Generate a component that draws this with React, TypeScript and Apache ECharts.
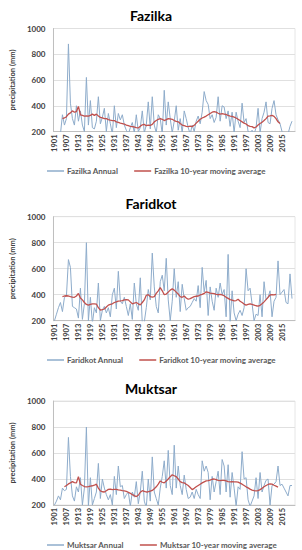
import React, { useEffect, useRef } from "react";
import * as echarts from "echarts";

const years: string[] = Array.from({ length: 121 }, (_, i) => String(1901 + i));
const yTicks = [200, 400, 600, 800, 1000];

const fazilkaAnnual = [
  150, 160, 170, 180, 330, 250, 300, 880, 420, 300,
  250, 400, 280, 360, 250, 200, 620, 250, 440, 230,
  220, 280, 470, 260, 310, 380, 200, 340, 260, 180,
  400, 230, 340, 290, 330, 250, 210, 180, 230, 270,
  190, 330, 200, 230, 360, 190, 250, 430, 220, 470,
  250, 190, 330, 300, 180, 520, 250, 430, 300, 190,
  280, 400, 210, 300, 190, 360, 300, 230, 180, 250,
  200, 280, 320, 260, 350, 510, 440, 410, 300, 330,
  270, 310, 470, 280, 400, 390, 300, 360, 240, 350,
  190, 350, 280, 230, 420, 270, 300, 200, 190, 210,
  180, 230, 380, 190, 300, 350, 430, 270, 260, 380,
  440, 330, 290, 260, 200, 170, 150, 180, 240, 280,
];
const fazilkaMAStart = 1905;
const fazilkaMA = [
  300, 305, 315, 335, 345, 360, 350, 355, 395, 330,
  325, 320, 322, 320, 325, 335, 325, 335, 320, 310,
  305, 300, 300, 292, 288, 285, 285, 275, 270, 265,
  262, 258, 250, 245, 240, 238, 235, 230, 228, 240,
  252, 255, 245, 250, 248, 255, 275, 285, 295, 300,
  295, 285, 292, 300, 298, 295, 285, 278, 275, 262,
  250, 245, 240, 238, 242, 238, 248, 265, 280, 295,
  305, 312, 320, 330, 340, 350, 355, 350, 342, 335,
  338, 335, 332, 325, 320, 318, 312, 305, 295, 285,
  275, 265, 258, 245, 240, 238, 228, 235, 250, 262,
  272, 285, 300, 320, 322, 325, 318, 300, 275, 262,
];

const faridkotAnnual = [
  200, 250, 300, 340, 270, 380, 390, 670, 610, 310,
  300, 290, 220, 450, 210, 330, 800, 200, 380, 180,
  300, 260, 490, 200, 280, 310, 260, 300, 230, 400,
  450, 290, 580, 350, 330, 380, 310, 240, 330, 210,
  490, 330, 280, 530, 180, 190, 300, 440, 360, 720,
  460, 310, 260, 500, 550, 430, 680, 360, 200, 350,
  600, 380, 500, 270, 480, 370, 280, 300, 310, 340,
  370, 350, 470, 300, 610, 420, 510, 240, 460, 350,
  280, 450, 380, 490, 400, 440, 230, 710, 190, 430,
  260, 200, 250, 280, 240, 300, 600, 430, 450, 330,
  200, 250, 240, 400, 230, 500, 360, 380, 430, 230,
  350, 380, 660, 400, 420, 440, 340, 330, 560, 370,
];
const faridkotMAStart = 1905;
const faridkotMA = [
  385, 390, 392, 390, 385, 382, 380, 390, 410, 375,
  360, 340, 325, 320, 325, 330, 330, 328, 300, 282,
  285, 290, 305, 320, 325, 330, 340, 345, 350, 352,
  355, 360, 362, 360, 345, 330, 335, 340, 330, 322,
  340, 360, 395, 400, 385, 382, 385, 410, 430, 455,
  430, 400, 405, 420, 435, 445, 435, 420, 405, 385,
  380, 390, 375, 365, 370, 378, 385, 388, 390, 398,
  402, 410, 422, 418, 412, 410, 408, 402, 400, 402,
  398, 392, 380, 372, 362, 358, 352, 355, 365, 350,
  340, 328, 320, 325, 330, 325, 320, 315, 312, 318,
  330, 345, 362, 380, 398, 400, 398, 402,
];

const muktsarAnnual = [
  200, 230, 270, 240, 330, 310, 320, 720, 420, 270,
  230, 340, 300, 410, 200, 330, 800, 190, 410, 200,
  250, 300, 520, 250, 400, 330, 280, 240, 280, 200,
  420, 280, 500, 340, 350, 250, 280, 300, 190, 300,
  260, 380, 210, 300, 460, 230, 180, 400, 230, 570,
  300, 250, 200, 330, 420, 540, 330, 620, 350, 280,
  660, 330, 500, 350, 280, 430, 320, 250, 260, 300,
  250, 320, 280, 250, 540, 460, 500, 450, 240, 420,
  300, 380, 460, 280, 550, 500, 300, 510, 260, 450,
  330, 190, 340, 320, 610, 400, 410, 240, 190, 230,
  270, 410, 250, 450, 300, 350, 390, 400, 200, 350,
  360, 380, 500, 350, 360, 330, 300, 270, 350, 350,
];
const muktsarMAStart = 1906;
const muktsarMA = [
  340, 350, 362, 370, 380, 372, 370, 418, 360, 350,
  342, 340, 342, 345, 348, 352, 360, 330, 308, 302,
  300, 310, 320, 322, 318, 320, 320, 316, 314, 310,
  308, 305, 298, 290, 280, 272, 265, 275, 298, 310,
  305, 300, 302, 306, 312, 325, 340, 360, 385, 375,
  370, 385, 400, 418, 432, 425, 418, 400, 380, 372,
  370, 360, 350, 335, 318, 328, 340, 350, 360, 370,
  378, 385, 388, 392, 398, 400, 395, 390, 388, 390,
  390, 385, 380, 378, 380, 378, 378, 376, 368, 360,
  350, 340, 332, 322, 315, 310, 308, 310, 318, 328,
  340, 350, 358, 362, 360, 352, 345, 338,
];

const pad = (start: number, arr: number[]) => [
  ...Array(start - 1901).fill(null),
  ...arr,
];

const districts = [
  { name: "Fazilka", annual: fazilkaAnnual, ma: pad(fazilkaMAStart, fazilkaMA) },
  { name: "Faridkot", annual: faridkotAnnual, ma: pad(faridkotMAStart, faridkotMA) },
  { name: "Muktsar", annual: muktsarAnnual, ma: pad(muktsarMAStart, muktsarMA) },
];

const layout = [
  { titleTop: 3, gridTop: 28.5, gridH: 103, legendTop: 162 },
  { titleTop: 191, gridTop: 216.7, gridH: 104, legendTop: 351 },
  { titleTop: 376, gridTop: 401, gridH: 104, legendTop: 536 },
];

const FONT = "Lato, 'Open Sans', sans-serif";
const BLUE = "#8eaccb";
const RED = "#c0504d";

export default function App() {
  const ref = useRef<HTMLDivElement>(null);
  useEffect(() => {
    if (!ref.current) return;
    const chart = echarts.init(ref.current, undefined, { renderer: "svg" });
    const option: any = {
      animation: false,
      backgroundColor: "#ffffff",
      title: districts.map((d, i) => ({
        text: d.name,
        left: "center",
        top: layout[i].titleTop,
        textStyle: { fontFamily: FONT, fontWeight: "bold", fontSize: 14, color: "#000" },
      })),
      legend: districts.map((d, i) => ({
        left: 42,
        top: layout[i].legendTop,
        itemWidth: 17,
        itemHeight: 1.5,
        itemGap: 16,
        icon: "rect",
        textStyle: { fontFamily: FONT, fontWeight: "bold", fontSize: 8, color: "#595959", padding: [0, 0, 0, -2] },
        data: [d.name + " Annual", d.name + " 10-year moving average"],
      })),
      grid: layout.map((l) => ({
        left: 42,
        width: 253,
        top: l.gridTop,
        height: l.gridH,
        show: true,
        borderColor: "#e6e6e6",
        borderWidth: 1,
      })),
      xAxis: districts.map((_, i) => ({
        type: "category",
        gridIndex: i,
        data: years,
        boundaryGap: true,
        axisLine: { lineStyle: { color: "#bfbfbf" } },
        axisTick: { show: false },
        axisLabel: {
          interval: (idx: number) => idx % 6 === 0 && idx < 120,
          rotate: 90,
          fontFamily: FONT,
          fontWeight: "bold",
          fontSize: 7.5,
          color: "#404040",
          margin: 3,
        },
      })),
      yAxis: districts.map((_, i) => ({
        type: "value",
        gridIndex: i,
        min: yTicks[0],
        max: yTicks[yTicks.length - 1],
        interval: 200,
        name: "precipitation (mm)",
        nameLocation: "middle",
        nameGap: 29,
        nameTextStyle: { fontFamily: FONT, fontWeight: "bold", fontSize: 7.5, color: "#404040" },
        axisLine: { show: true, lineStyle: { color: "#bfbfbf" } },
        axisTick: { show: false },
        splitLine: { lineStyle: { color: "#e0e0e0" } },
        axisLabel: {
          fontFamily: FONT,
          fontWeight: "bold",
          fontSize: 8,
          color: "#404040",
          margin: 8,
          formatter: (v: number) => String(v),
        },
      })),
      series: districts.flatMap((d, i) => [
        {
          name: d.name + " Annual",
          type: "line",
          xAxisIndex: i,
          yAxisIndex: i,
          data: d.annual,
          showSymbol: false,
          clip: true,
          lineStyle: { color: BLUE, width: 1 },
          itemStyle: { color: BLUE },
        },
        {
          name: d.name + " 10-year moving average",
          type: "line",
          xAxisIndex: i,
          yAxisIndex: i,
          data: d.ma,
          showSymbol: false,
          clip: true,
          lineStyle: { color: RED, width: 1.3 },
          itemStyle: { color: RED },
          z: 3,
        },
      ]),
    };
    chart.setOption(option);
    return () => chart.dispose();
  }, []);
  return (
    <div
      ref={ref}
      style={{ position: "fixed", left: 0, top: 0, width: 302, height: 550, background: "#fff" }}
    />
  );
}
